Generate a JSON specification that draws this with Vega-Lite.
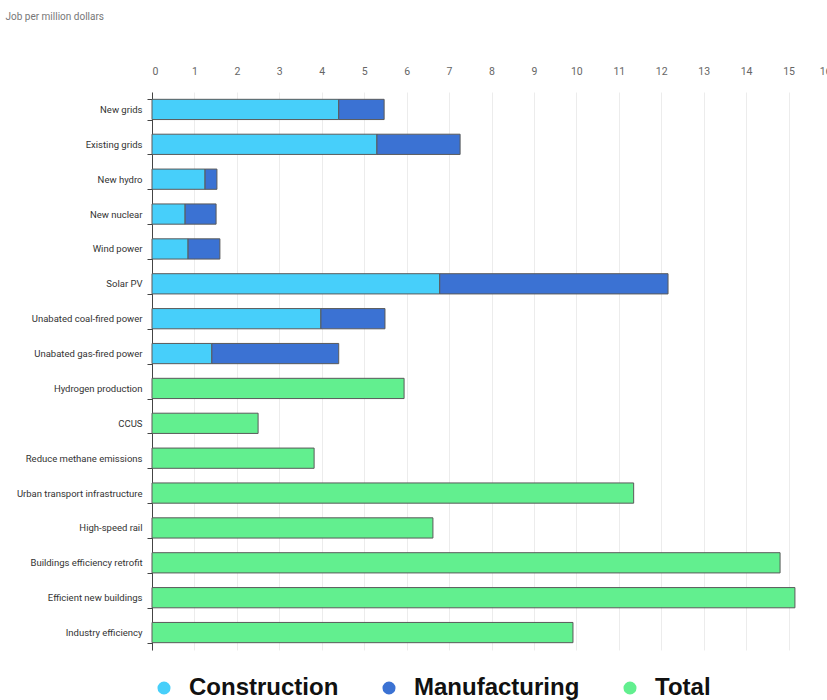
{
  "$schema": "https://vega.github.io/schema/vega-lite/v6.json",
  "autosize": "none",
  "width": 679,
  "height": 558,
  "padding": {"left": 152, "top": 92, "right": 0, "bottom": 50},
  "background": "white",
  "config": {"view": {"stroke": null}},
  "data": {"values": [
    {"category": "New grids", "type": "Construction", "value": 4.4},
    {"category": "New grids", "type": "Manufacturing", "value": 1.07},
    {"category": "Existing grids", "type": "Construction", "value": 5.3},
    {"category": "Existing grids", "type": "Manufacturing", "value": 1.96},
    {"category": "New hydro", "type": "Construction", "value": 1.25},
    {"category": "New hydro", "type": "Manufacturing", "value": 0.28},
    {"category": "New nuclear", "type": "Construction", "value": 0.78},
    {"category": "New nuclear", "type": "Manufacturing", "value": 0.73},
    {"category": "Wind power", "type": "Construction", "value": 0.85},
    {"category": "Wind power", "type": "Manufacturing", "value": 0.75},
    {"category": "Solar PV", "type": "Construction", "value": 6.78},
    {"category": "Solar PV", "type": "Manufacturing", "value": 5.38},
    {"category": "Unabated coal-fired power", "type": "Construction", "value": 3.98},
    {"category": "Unabated coal-fired power", "type": "Manufacturing", "value": 1.51},
    {"category": "Unabated gas-fired power", "type": "Construction", "value": 1.41},
    {"category": "Unabated gas-fired power", "type": "Manufacturing", "value": 2.99},
    {"category": "Hydrogen production", "type": "Total", "value": 5.94},
    {"category": "CCUS", "type": "Total", "value": 2.5},
    {"category": "Reduce methane emissions", "type": "Total", "value": 3.82},
    {"category": "Urban transport infrastructure", "type": "Total", "value": 11.35},
    {"category": "High-speed rail", "type": "Total", "value": 6.62},
    {"category": "Buildings efficiency retrofit", "type": "Total", "value": 14.8},
    {"category": "Efficient new buildings", "type": "Total", "value": 15.15},
    {"category": "Industry efficiency", "type": "Total", "value": 9.92}
  ]},
  "mark": {"type": "bar", "stroke": "#5a5a5a", "strokeWidth": 1},
  "encoding": {
    "y": {
      "field": "category", "type": "nominal",
      "sort": ["New grids", "Existing grids", "New hydro", "New nuclear", "Wind power", "Solar PV", "Unabated coal-fired power", "Unabated gas-fired power", "Hydrogen production", "CCUS", "Reduce methane emissions", "Urban transport infrastructure", "High-speed rail", "Buildings efficiency retrofit", "Efficient new buildings", "Industry efficiency"],
      "scale": {"paddingInner": 0.42, "paddingOuter": 0.21},
      "axis": {
        "title": null,
        "tickBand": "extent",
        "tickSize": 5,
        "tickColor": "#444",
        "domainColor": "#444",
        "labelPadding": 5,
        "labelFont": "Roboto",
        "labelFontSize": 9.5,
        "labelColor": "#333",
        "labelLimit": 200
      }
    },
    "x": {
      "field": "value", "type": "quantitative", "stack": "zero",
      "scale": {"domain": [0, 16], "nice": false},
      "axis": {
        "orient": "top",
        "title": "Job per million dollars",
        "titleX": -147,
        "titleY": -71,
        "titleAlign": "left",
        "titleAnchor": null,
        "titleFont": "Roboto",
        "titleFontSize": 10,
        "titleFontWeight": "normal",
        "titleColor": "#777",
        "values": [0,1,2,3,4,5,6,7,8,9,10,11,12,13,14,15,16],
        "format": "d",
        "domain": false,
        "ticks": false,
        "labelPadding": 16,
        "labelFont": "Roboto",
        "labelFontSize": 10.5,
        "labelColor": "#666",
        "grid": true,
        "gridColor": "#ececec"
      }
    },
    "color": {
      "field": "type", "type": "nominal",
      "scale": {"domain": ["Construction", "Manufacturing", "Total"], "range": ["#47cffa", "#3b72d3", "#62ef8f"]},
      "legend": {
        "title": null,
        "orient": "none",
        "direction": "horizontal",
        "legendX": 0,
        "legendY": 584,
        "symbolType": "circle",
        "symbolSize": 170,
        "symbolStrokeWidth": 0,
        "labelFont": "Liberation Sans",
        "labelFontSize": 24,
        "labelFontWeight": "bold",
        "labelColor": "#111",
        "labelOffset": 13,
        "labelLimit": 300,
        "columnPadding": 38,
        "padding": 0
      }
    },
    "order": {"field": "type", "sort": "ascending"}
  }
}
